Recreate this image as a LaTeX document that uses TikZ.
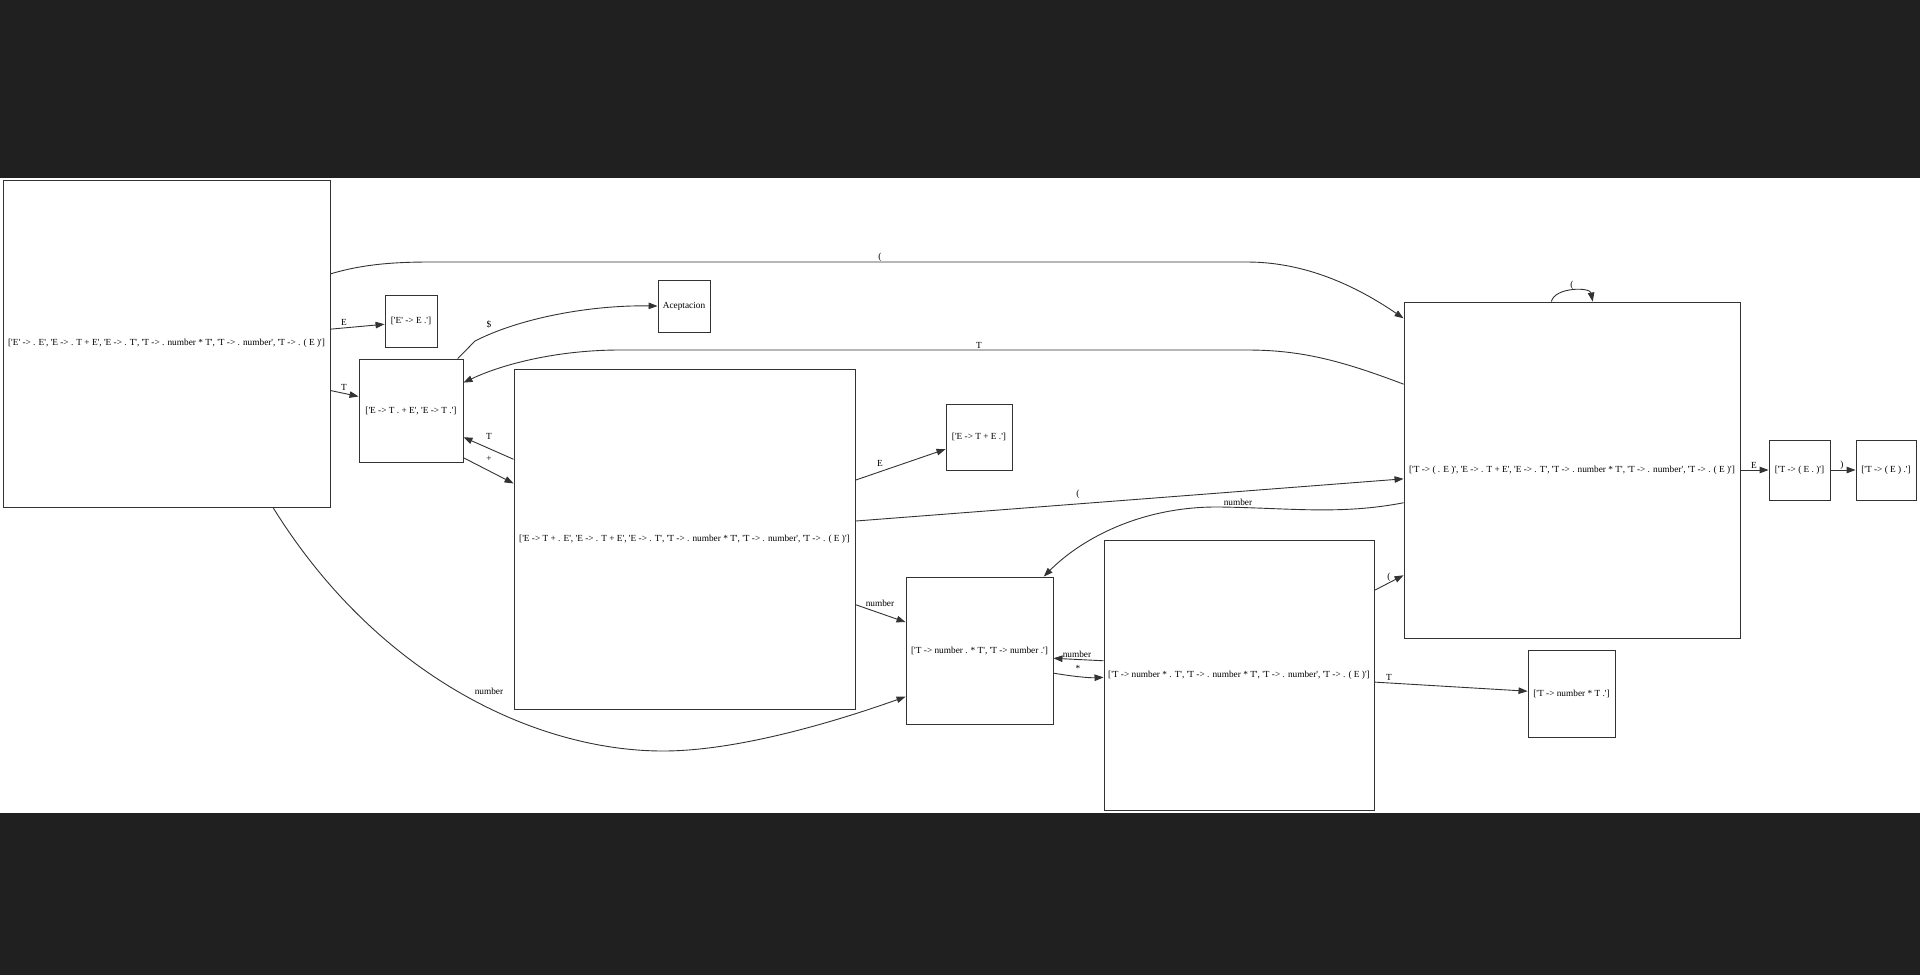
\documentclass[tikz,border=0pt]{standalone}
\usepackage{fontspec}
\setmainfont{Liberation Serif}[Ligatures=TeXOff]
\usetikzlibrary{arrows.meta}
\definecolor{bgdark}{HTML}{202020}

\begin{document}
\begin{tikzpicture}[x=1pt, y=-1pt,
		state/.style={draw=black!80, line width=0.9pt, inner sep=0pt, font=\fontsize{9.3}{11}\selectfont},
		lab/.style={inner sep=0pt, font=\fontsize{9.3}{11}\selectfont},
		trans/.style={draw=black!80, line width=0.9pt, -{Triangle[length=9pt,width=6.5pt]}}]
		\useasboundingbox (0,0) rectangle (1920,975);
		\fill[bgdark] (0,0) rectangle (1920,975);
		\fill[white] (0,178) rectangle (1920,813);
		% states
		\node[state, minimum width=327pt, minimum height=327pt] (n0) at (166.5,343.5) {['E' -> . E', 'E -> . T + E', 'E -> . T', 'T -> . number * T', 'T -> . number', 'T -> . ( E )']};
		\node[state, minimum width=52pt, minimum height=52pt] (n1) at (411,321) {['E' -> E .']};
		\node[state, minimum width=104pt, minimum height=103pt] (n2) at (411,410.5) {['E -> T . + E', 'E -> T .']};
		\node[state, minimum width=52pt, minimum height=52pt] (acc) at (684,306) {Aceptacion};
		\node[state, minimum width=341pt, minimum height=340pt] (n3) at (684.5,539) {['E -> T + . E', 'E -> . T + E', 'E -> . T', 'T -> . number * T', 'T -> . number', 'T -> . ( E )']};
		\node[state, minimum width=66pt, minimum height=66pt] (n4) at (979,437) {['E -> T + E .']};
		\node[state, minimum width=147pt, minimum height=147pt] (n5) at (979.5,650.5) {['T -> number . * T', 'T -> number .']};
		\node[state, minimum width=270pt, minimum height=270pt] (n6) at (1239,675) {['T -> number * . T', 'T -> . number * T', 'T -> . number', 'T -> . ( E )']};
		\node[state, minimum width=336pt, minimum height=336pt] (n7) at (1572,470) {['T -> ( . E )', 'E -> . T + E', 'E -> . T', 'T -> . number * T', 'T -> . number', 'T -> . ( E )']};
		\node[state, minimum width=61pt, minimum height=60pt] (n8) at (1799.5,470) {['T -> ( E . )']};
		\node[state, minimum width=60pt, minimum height=60pt] (n9) at (1886,470) {['T -> ( E ) .']};
		\node[state, minimum width=87pt, minimum height=87pt] (n10) at (1571.5,693.5) {['T -> number * T .']};
		% transitions
		\draw[trans] (n0.23) .. controls (360,265) and (390,262) .. (430,262) -- (1247,262) .. controls (1310,262) and (1362,290) .. (n7.138);
		\draw[trans] (n0.5) -- (n1.187);
		\draw[trans] (n0.344) -- (n2.165);
		\draw[trans] (n0.303) .. controls (380,680) and (540,751) .. (663,751) .. controls (740,751) and (840,720) .. (n5.212);
		\draw[trans] (n2.48) -- (475,341) .. controls (520,318) and (590,305) .. (acc.west);
		\draw[trans] (n7.153) .. controls (1340,360) and (1300,350) .. (1247,350) -- (620,350) .. controls (560,350) and (505,363) .. (n2.28);
		\draw[trans] (n3.155) -- (n2.333);
		\draw[trans] (n2.318) -- (n3.162);
		\draw[trans] (n3.19) -- (n4.200);
		\draw[trans] (n3.6) -- (n7.183);
		\draw[trans] (n3.339) -- (n5.159);
		\draw[trans] (n7.191) .. controls (1340,515) and (1290,508) .. (1220,507) .. controls (1140,506) and (1080,540) .. (n5.49);
		\draw[trans] (n6.174) -- (n5.354);
		\draw[trans] (n5.343) .. controls (1070,676) and (1088,678) .. (n6.181);
		\draw[trans] (n6.32) -- (n7.212);
		\draw[trans] (n6.357) -- (n10.177);
		\draw[trans] (n7.97) .. controls (1555,287) and (1590,287) .. (n7.83);
		\draw[trans] (n7.east) -- (n8.west);
		\draw[trans] (n8.east) -- (n9.west);
		% labels
		\node[lab] (l1) at (880,257) {(};
		\node[lab] (l2) at (344,322) {E};
		\node[lab] (l3) at (344,387) {T};
		\node[lab] (l4) at (489,691) {number};
		\node[lab] (l5) at (489,324) {\$};
		\node[lab] (l6) at (979,345) {T};
		\node[lab] (l7) at (489,436) {T};
		\node[lab] (l8) at (489,459) {+};
		\node[lab] (l9) at (880,463) {E};
		\node[lab] (l10) at (1078,494) {(};
		\node[lab] (l11) at (880,603) {number};
		\node[lab] (l12) at (1238,502) {number};
		\node[lab] (l13) at (1077,654) {number};
		\node[lab] (l14) at (1078,668) {*};
		\node[lab] (l15) at (1389,577) {(};
		\node[lab] (l16) at (1389,677) {T};
		\node[lab] (l17) at (1572,285) {(};
		\node[lab] (l18) at (1754,465) {E};
		\node[lab] (l19) at (1842,465) {)};
	\end{tikzpicture}
\end{document}
